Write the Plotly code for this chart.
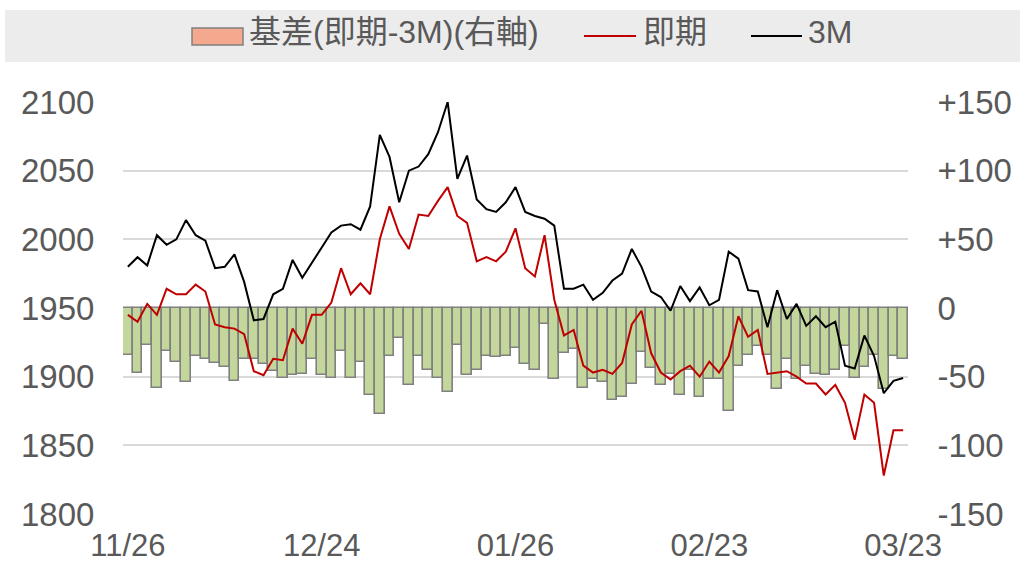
import plotly.graph_objects as go

# ---------------- data ----------------
dates = [
    "11/26", "11/27", "11/30",
    "12/01", "12/02", "12/03", "12/04",
    "12/07", "12/08", "12/09", "12/10", "12/11",
    "12/14", "12/15", "12/16", "12/17", "12/18",
    "12/21", "12/22", "12/23", "12/24",
    "12/29", "12/30", "12/31",
    "01/04", "01/05", "01/06", "01/07", "01/08",
    "01/11", "01/12", "01/13", "01/14", "01/15",
    "01/18", "01/19", "01/20", "01/21", "01/22",
    "01/25", "01/26", "01/27", "01/28", "01/29",
    "02/01", "02/02", "02/03", "02/04", "02/05",
    "02/08", "02/09", "02/10", "02/11", "02/12",
    "02/15", "02/16", "02/17", "02/18", "02/19",
    "02/22", "02/23", "02/24", "02/25", "02/26",
    "03/01", "03/02", "03/03", "03/04", "03/05",
    "03/08", "03/09", "03/10", "03/11", "03/12",
    "03/15", "03/16", "03/17", "03/18", "03/19",
    "03/22", "03/23",
]

tick_labels = ["11/26", "12/24", "01/26", "02/23", "03/23"]

spot = [
    1945, 1940, 1953, 1945, 1964, 1960, 1960, 1967, 1962, 1938,
    1936, 1935, 1931, 1904, 1901, 1913, 1912, 1935, 1924, 1945,
    1945, 1954, 1979, 1960, 1968, 1960, 2000, 2024, 2004, 1993,
    2018, 2017, 2028, 2038, 2017, 2012, 1984, 1987, 1984, 1991,
    2008, 1979, 1973, 2003, 1956, 1930, 1934, 1908, 1903, 1905,
    1902, 1910, 1938, 1948, 1917, 1903, 1898, 1904, 1908, 1900,
    1911, 1903, 1915, 1944, 1929, 1934, 1902, 1903, 1904, 1900,
    1895, 1895, 1887, 1894, 1881, 1854, 1887, 1881, 1828, 1861,
    1861,
]

three_m = [
    1980, 1987, 1981, 2003, 1996, 2000, 2014, 2003, 1999, 1979,
    1980, 1989, 1969, 1941, 1942, 1960, 1964, 1985, 1972, 1983,
    1994, 2005, 2010, 2011, 2007, 2024, 2076, 2060, 2027, 2050,
    2053, 2062, 2078, 2100, 2044, 2061, 2029, 2022, 2020, 2027,
    2038, 2020, 2017, 2015, 2010, 1964, 1964, 1967, 1956, 1961,
    1970, 1975, 1993, 1980, 1962, 1958, 1948, 1966, 1955, 1965,
    1952, 1956, 1991, 1986, 1963, 1962, 1936, 1963, 1942, 1953,
    1937, 1944, 1936, 1940, 1908, 1906, 1930, 1915, 1888, 1897,
    1899,
]

basis = [
    -34, -47, -27, -58, -31, -39, -54, -35, -37, -40,
    -43, -53, -37, -37, -41, -46, -51, -49, -48, -37,
    -49, -51, -31, -51, -39, -63, -77, -35, -22, -56,
    -35, -45, -51, -61, -27, -49, -45, -35, -36, -35,
    -29, -41, -45, -12, -52, -33, -30, -58, -52, -54,
    -67, -65, -55, -32, -44, -56, -48, -63, -45, -65,
    -52, -52, -75, -42, -34, -28, -34, -59, -37, -52,
    -42, -48, -49, -45, -28, -51, -43, -34, -59, -35,
    -37,
]

left_ticks = [1800, 1850, 1900, 1950, 2000, 2050, 2100]
right_ticks = [-150, -100, -50, 0, 50, 100, 150]
right_tick_text = ["-150", "-100", "-50", "0", "+50", "+100", "+150"]

name_basis = "基差(即期-3M)(右軸)"
name_spot = "即期"
name_3m = "3M"

# ---------------- layout constants ----------------
W, H = 1020, 569
ML, MR, MT, MB = 123, 112, 102, 55
PW, PH = W - ML - MR, H - MT - MB
FONT = "Liberation Sans, Arial, Noto Sans CJK TC, sans-serif"
TXT = "#595959"
TICK_SIZE = 33
XTICK_SIZE = 31
LEG_SIZE = 32


def px_x(px):
    return (px - ML) / PW


def px_y(py):
    return (H - MB - py) / PH


fig = go.Figure()

fig.add_trace(go.Bar(
    x=dates, y=basis, name=name_basis, yaxis="y",
    marker=dict(color="#c3d69b", line=dict(color="#808080", width=1.6)),
    showlegend=False,
))
fig.add_trace(go.Scatter(
    x=dates, y=spot, name=name_spot, yaxis="y2", mode="lines",
    line=dict(color="#c00000", width=2), showlegend=False,
))
fig.add_trace(go.Scatter(
    x=dates, y=three_m, name=name_3m, yaxis="y2", mode="lines",
    line=dict(color="#000000", width=2), showlegend=False,
))

shapes = [
    dict(type="rect", xref="paper", yref="paper", layer="below",
         x0=px_x(5), x1=px_x(1021), y0=px_y(62), y1=px_y(10),
         fillcolor="#ececec", line=dict(width=0)),
    dict(type="rect", xref="paper", yref="paper",
         x0=px_x(192), x1=px_x(243), y0=px_y(45), y1=px_y(28),
         fillcolor="#f4a98f", line=dict(color="#808080", width=1.5)),
    dict(type="line", xref="paper", yref="paper",
         x0=px_x(584), x1=px_x(636), y0=px_y(36), y1=px_y(36),
         line=dict(color="#c00000", width=2)),
    dict(type="line", xref="paper", yref="paper",
         x0=px_x(751), x1=px_x(802), y0=px_y(36), y1=px_y(36),
         line=dict(color="#000000", width=2)),
]

annotations = [
    dict(text=name_basis, x=px_x(247), y=px_y(32), xref="paper", yref="paper",
         xanchor="left", yanchor="middle", showarrow=False,
         font=dict(family=FONT, size=LEG_SIZE, color=TXT)),
    dict(text=name_spot, x=px_x(641), y=px_y(32), xref="paper", yref="paper",
         xanchor="left", yanchor="middle", showarrow=False,
         font=dict(family=FONT, size=LEG_SIZE, color=TXT)),
    dict(text=name_3m, x=px_x(806), y=px_y(32), xref="paper", yref="paper",
         xanchor="left", yanchor="middle", showarrow=False,
         font=dict(family=FONT, size=LEG_SIZE, color=TXT)),
]

fig.update_layout(
    width=W, height=H,
    margin=dict(l=ML, r=MR, t=MT, b=MB, pad=0, autoexpand=False),
    paper_bgcolor="white", plot_bgcolor="white",
    bargap=0,
    showlegend=False,
    font=dict(family=FONT, size=TICK_SIZE, color=TXT),
    xaxis=dict(
        type="category", tickmode="array", tickvals=tick_labels, ticktext=tick_labels,
        showgrid=False, showline=False, zeroline=False, automargin=False,
        ticks="outside", ticklen=4, tickcolor="rgba(0,0,0,0)",
        tickfont=dict(family=FONT, size=XTICK_SIZE, color=TXT),
    ),
    yaxis=dict(
        side="right", range=[-150, 150], tickmode="array",
        tickvals=right_ticks, ticktext=right_tick_text,
        showgrid=True, gridcolor="#d9d9d9", gridwidth=1.5,
        zeroline=False, showline=False, automargin=False,
        ticks="outside", ticklen=22, tickcolor="rgba(0,0,0,0)",
        tickfont=dict(family=FONT, size=TICK_SIZE, color=TXT),
    ),
    yaxis2=dict(
        overlaying="y", side="left", range=[1800, 2100], tickmode="array",
        tickvals=left_ticks, ticktext=[str(v) for v in left_ticks],
        showgrid=False, zeroline=False, showline=False, automargin=False,
        ticks="outside", ticklen=21, tickcolor="rgba(0,0,0,0)",
        tickfont=dict(family=FONT, size=TICK_SIZE, color=TXT),
    ),
    shapes=shapes,
    annotations=annotations,
)

fig.write_html(
    "out.html",
    config={"displayModeBar": False, "responsive": False},
    post_script="document.body.style.margin='0';document.body.style.overflow='hidden';",
)
